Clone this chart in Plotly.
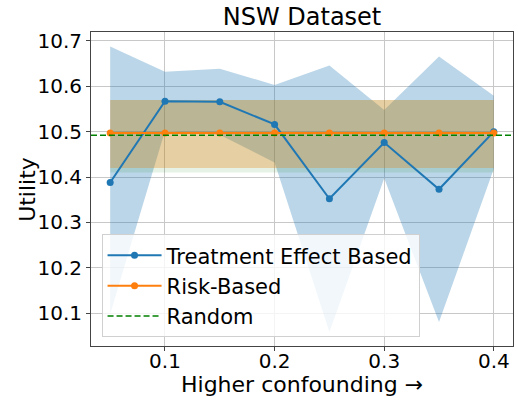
"""NSW dataset: utility vs. confounding strength for three targeting policies."""

import plotly.graph_objects as go

FONT = "DejaVu Sans"

confounding = [0.05, 0.10, 0.15, 0.20, 0.25, 0.30, 0.35, 0.40]

te_mean = [10.388, 10.567, 10.566, 10.516, 10.352, 10.476, 10.373, 10.500]
te_upper = [10.688, 10.632, 10.639, 10.603, 10.646, 10.548, 10.666, 10.579]
te_lower = [10.098, 10.502, 10.493, 10.432, 10.058, 10.397, 10.080, 10.418]

risk_mean = [10.497, 10.497, 10.497, 10.497, 10.497, 10.497, 10.497, 10.497]
risk_upper = [10.570, 10.570, 10.570, 10.570, 10.570, 10.570, 10.570, 10.570]
risk_lower = [10.420, 10.420, 10.420, 10.420, 10.420, 10.420, 10.420, 10.420]

random_mean = 10.492
random_upper = [10.570, 10.570, 10.570, 10.570, 10.570, 10.570, 10.570, 10.570]
random_lower = [10.410, 10.410, 10.410, 10.410, 10.410, 10.410, 10.410, 10.410]

BLUE = "#1f77b4"
ORANGE = "#ff7f0e"
GREEN = "#008000"
DASH = "6px,3px"


def band(x, lower, upper, color):
    return go.Scatter(
        x=list(x) + list(x)[::-1],
        y=list(upper) + list(lower)[::-1],
        fill="toself",
        fillcolor=color,
        line={"width": 0},
        mode="lines",
        showlegend=False,
        hoverinfo="skip",
    )


fig = go.Figure()
fig.add_trace(band(confounding, te_lower, te_upper, "rgba(31,119,180,0.3)"))
fig.add_trace(band(confounding, risk_lower, risk_upper, "rgba(255,127,14,0.3)"))
fig.add_trace(band(confounding, random_lower, random_upper, "rgba(0,128,0,0.1)"))

fig.add_trace(
    go.Scatter(
        x=confounding,
        y=te_mean,
        mode="lines+markers",
        name="Treatment Effect Based",
        line={"color": BLUE, "width": 2},
        marker={"color": BLUE, "size": 7},
        legendgroup="te",
    )
)
fig.add_trace(
    go.Scatter(
        x=confounding,
        y=risk_mean,
        mode="lines+markers",
        name="Risk-Based",
        line={"color": ORANGE, "width": 2},
        marker={"color": ORANGE, "size": 7},
        legendgroup="risk",
    )
)
# legend entry for the horizontal random baseline
fig.add_trace(
    go.Scatter(
        x=[None],
        y=[None],
        mode="lines",
        name="Random",
        line={"color": GREEN, "width": 1.5, "dash": DASH},
        legendgroup="random",
    )
)
fig.add_hline(y=random_mean, line={"color": GREEN, "width": 1.5, "dash": DASH}, layer="above")

axis_common = {
    "showline": True,
    "mirror": True,
    "linecolor": "#444",
    "linewidth": 1,
    "showgrid": True,
    "gridcolor": "#c8c8c8",
    "gridwidth": 1,
    "ticks": "outside",
    "ticklen": 4,
    "tickcolor": "#444",
    "zeroline": False,
    "tickfont": {"family": FONT, "size": 20, "color": "black"},
    "tickformat": ".1f",
    "dtick": 0.1,
    "tick0": 0,
}

fig.update_layout(
    width=518,
    height=405,
    margin={"l": 91, "r": 5, "t": 32, "b": 59},
    paper_bgcolor="white",
    plot_bgcolor="white",
    font={"family": FONT, "color": "black"},
    title={
        "text": "NSW Dataset",
        "x": 0.5,
        "xref": "paper",
        "xanchor": "center",
        "y": 0.958,
        "yanchor": "middle",
        "font": {"family": FONT, "size": 24, "color": "black"},
    },
    xaxis={**axis_common, "range": [0.0325, 0.4175], "ticklabelstandoff": -7},
    yaxis={**axis_common, "range": [10.0273, 10.7198]},
    legend={
        "x": 0.025,
        "y": 0.028,
        "xanchor": "left",
        "yanchor": "bottom",
        "bgcolor": "rgba(255,255,255,0.8)",
        "bordercolor": "#d0d0d0",
        "borderwidth": 1,
        "font": {"family": FONT, "size": 21, "color": "black"},
        "itemwidth": 54,
        "tracegroupgap": 0,
    },
    showlegend=True,
)

# axis titles placed as annotations to match the reference spacing
fig.add_annotation(
    text="Higher confounding →",
    xref="paper", yref="paper", x=0.5, y=-0.124,
    xanchor="center", yanchor="middle", showarrow=False,
    font={"family": FONT, "size": 22, "color": "black"},
)
fig.add_annotation(
    text="Utility",
    xref="paper", yref="paper", x=-0.152, y=0.5, textangle=-90,
    xanchor="center", yanchor="middle", showarrow=False,
    font={"family": FONT, "size": 22, "color": "black"},
)

fig.write_html(
    "out.html",
    config={"displayModeBar": False},
    post_script="document.body.style.margin='0';",
)
